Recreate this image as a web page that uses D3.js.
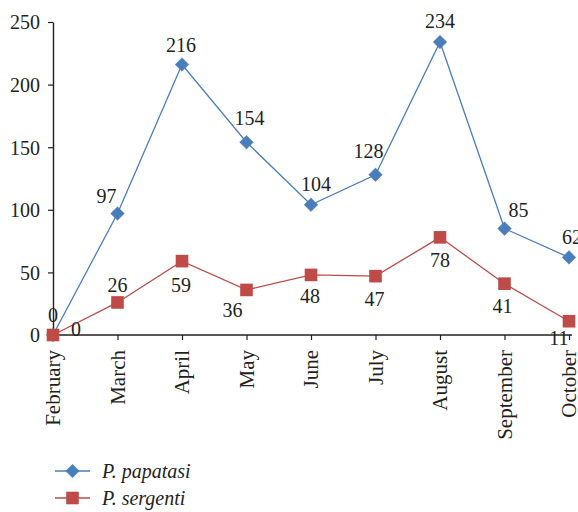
<!DOCTYPE html>
<html><head><meta charset="utf-8">
<script src="https://cdn.jsdelivr.net/npm/d3@7/dist/d3.min.js"></script>
<style>body{margin:0;background:#fff}svg{display:block}</style>
</head><body>
<svg id="c" width="578" height="512"></svg>
<script>
const months = ["February","March","April","May","June","July","August","September","October"];
const papatasi = [0,97,216,154,104,128,234,85,62];
const sergenti = [0,26,59,36,48,47,78,41,11];
const yTicks = [0,50,100,150,200,250];
const seriesNames = ["P. papatasi","P. sergenti"];
// label offsets (dx, dy of label centre from point)
const papatasiLabelOffsets = [[0,-20],[-11,-17],[-1,-19],[3,-24],[5,-21],[-7,-24],[0,-21],[14,-18],[3,-20]];
const sergentiLabelOffsets = [[23,-6],[0,-17],[-1,24],[-14,20],[-1,21],[-1,23],[0,23],[-2,23],[-10,17]];

const svg = d3.select("#c");
const ink = "#231f20";
const font = "'Liberation Serif','Times New Roman',serif";
const blue = "#4a7ebb", red = "#be4b48";

const x = d3.scalePoint().domain(months).range([53,569]);
const y = d3.scaleLinear().domain([0,250]).range([335,22]);

// y axis
const ya = svg.append("g").attr("transform","translate(53,0)")
  .call(d3.axisLeft(y).tickValues(yTicks).tickSize(5).tickPadding(8).tickSizeOuter(0));
ya.select(".domain").attr("stroke",ink).attr("stroke-width",1.4);
ya.selectAll(".tick line").attr("stroke",ink).attr("stroke-width",1.2);
ya.selectAll(".tick text").attr("fill",ink).style("font-family",font).style("font-size","20px").attr("dy","0.34em");

// x axis
const xa = svg.append("g").attr("transform","translate(0,335)")
  .call(d3.axisBottom(x).tickSize(5).tickSizeOuter(0));
xa.select(".domain").attr("stroke",ink).attr("stroke-width",1.4).attr("d","M53,0H572");
xa.selectAll(".tick line").attr("stroke",ink).attr("stroke-width",1.2);
xa.selectAll(".tick text").attr("fill",ink).style("font-family",font).style("font-size","21px")
  .attr("text-anchor","end").attr("transform","translate(0,15) rotate(-90)")
  .attr("x",0).attr("y",0).attr("dy","0.33em");

const line = d3.line().x((d,i)=>x(months[i])).y(d=>y(d));

function diamond(g, color){ g.append("path").attr("d","M0,-6.8L6.8,0L0,6.8L-6.8,0Z").attr("fill",color).attr("stroke",color).attr("stroke-width",0.5); }
function square(g, color){ g.append("rect").attr("x",-6.3).attr("y",-6.3).attr("width",12.6).attr("height",12.6).attr("fill",color); }

function drawSeries(data, color, marker, offsets){
  svg.append("path").datum(data).attr("d",line).attr("fill","none").attr("stroke",color).attr("stroke-width",1.3);
  data.forEach((v,i)=>{
    const g = svg.append("g").attr("transform",`translate(${x(months[i])},${y(v)})`);
    marker(g,color);
  });
  svg.append("g").selectAll("text").data(data).join("text")
    .attr("x",(d,i)=>x(months[i])+offsets[i][0])
    .attr("y",(d,i)=>y(d)+offsets[i][1])
    .attr("dy","0.34em").attr("text-anchor","middle")
    .attr("fill",ink).style("font-family",font).style("font-size","20px")
    .text(d=>d);
}
drawSeries(papatasi, blue, diamond, papatasiLabelOffsets);
drawSeries(sergenti, red, square, sergentiLabelOffsets);

// legend
const legend = [[seriesNames[0], blue, diamond],[seriesNames[1], red, square]];
legend.forEach((L,i)=>{
  const ly = 471 + i*27;
  svg.append("line").attr("x1",55).attr("x2",90).attr("y1",ly).attr("y2",ly).attr("stroke",L[1]).attr("stroke-width",1.3);
  const g = svg.append("g").attr("transform",`translate(72.5,${ly})`);
  L[2](g,L[1]);
  svg.append("text").attr("x",102).attr("y",ly).attr("dy","0.34em").attr("fill",ink)
    .style("font-family",font).style("font-size","20px").style("font-style","italic").text(L[0]);
});
</script>
</body></html>
